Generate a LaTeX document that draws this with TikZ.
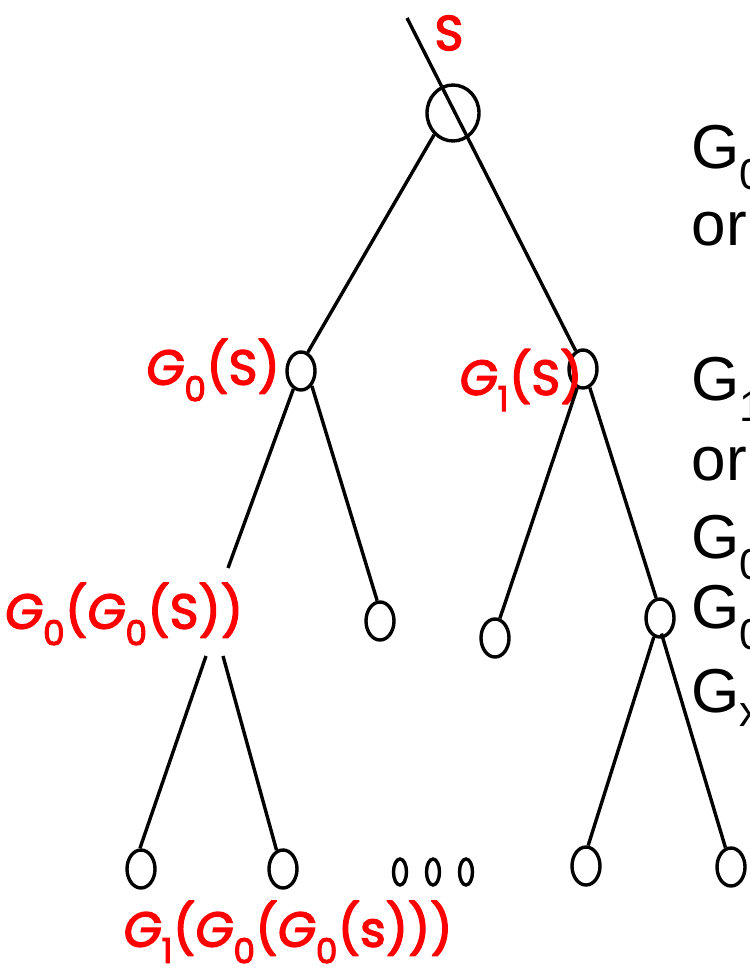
\documentclass[tikz,border=0pt]{standalone}
\usepackage{fontspec}
\setmainfont{Liberation Sans}
\newfontfamily\hand{Poppins}[FakeBold=3]
\usetikzlibrary{shapes.geometric}

\begin{document}
\begin{tikzpicture}[x=1pt,y=-1pt,line width=3.4pt,
  big/.style={draw,ellipse,inner sep=0pt,minimum width=28pt,minimum height=38pt},
  rootnode/.style={draw,ellipse,inner sep=0pt,minimum width=52pt,minimum height=56pt},
  small/.style={draw,ellipse,inner sep=0pt,minimum width=13pt,minimum height=26pt},
  lab/.style={text=red,inner sep=0pt,font=\hand\fontsize{49}{54}\selectfont},
  note/.style={anchor=base west,inner sep=0pt,font=\fontsize{62}{66}\selectfont}]
\useasboundingbox (0,0) rectangle (749,971);
\clip (0,0) rectangle (749,971);

% tree nodes
\node[rootnode] (root) at (453,113) {};
\node[big] (a) at (301,371) {};
\node[big] (b) at (583,369) {};
\node[big] (c) at (380,621) {};
\node[big] (d) at (495,638) {};
\node[big] (e) at (660,618) {};
\node[big] (l1) at (141,869) {};
\node[big] (l2) at (283,869) {};
\node[big] (l3) at (586,866) {};
\node[big] (l4) at (731,867) {};
\node[small] (s1) at (400,872) {};
\node[small] (s2) at (433,872) {};
\node[small] (s3) at (466,872) {};

% red labels
\node[lab] (ls) at (449,33) {S};
\node[lab] (la) at (213,370) {\textit{G}\textsubscript{0}(S)};
\node[lab] (lb) at (521,380) {\textit{G}\textsubscript{1}(S)};
\node[lab] (g00) at (124,614) {\textit{G}\textsubscript{0}(\textit{G}\textsubscript{0}(S))};
\node[lab] (lg) at (288,932) {\textit{G}\textsubscript{1}(\textit{G}\textsubscript{0}(\textit{G}\textsubscript{0}(s)))};

% branch points above and below the unboxed label
\coordinate (g00t) at (228,568);
\coordinate (g00bl) at (206,656);
\coordinate (g00br) at (223,656);

% edges
\coordinate (in) at (407,18);
\draw (in) -- (b.112);
\draw (root.-131) -- (a.70);
\draw (a.-113) -- (g00t);
\draw (a.-54) -- (c.98);
\draw (b.-107) -- (d.76);
\draw (b.-70) -- (e.101);
\draw (g00bl) -- (l1.93);
\draw (g00br) -- (l2.109);
\draw (e.-108) -- (l3.84);
\draw[shorten <=-5pt] (e.-82) -- (l4.106);

% text at the right edge
\node[note] (t1) at (690,168) {G\textsubscript{0}};
\node[note] (t2) at (690,245) {or};
\node[note] (t3) at (690,400) {G\textsubscript{1}};
\node[note] (t4) at (690,480) {or};
\node[note] (t5) at (690,558) {G\textsubscript{0}};
\node[note] (t6) at (690,628) {G\textsubscript{0}};
\node[note] (t7) at (690,712) {G\textsubscript{x}};
\end{tikzpicture}
\end{document}
